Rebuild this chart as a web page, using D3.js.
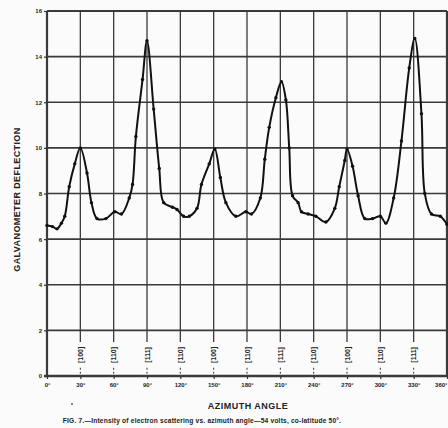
<!DOCTYPE html>
<html>
<head>
<meta charset="utf-8">
<script src="https://cdn.jsdelivr.net/npm/d3@7"></script>
<style>
  body { margin: 0; background: #fbfbfb; }
  svg { display: block; }
  text { fill: #222; font-family: "Liberation Sans Narrow", "Liberation Sans", sans-serif; font-weight: bold; }
</style>
</head>
<body>
<svg id="chart"></svg>
<script>
const width = 448;
const height = 428;

// azimuth angle (degrees) and galvanometer deflection
const azimuth = [0, 5, 9, 13, 16, 20, 25, 30, 36, 40, 45, 53, 61, 67, 74, 77, 80, 86, 90,
  96, 101, 105, 113, 117, 123, 128, 135, 139, 146, 151, 156, 161, 170, 179, 184, 192, 196,
  200, 206, 211, 215, 218, 221, 226, 229, 235, 242, 251, 259, 263, 268, 270, 275, 280, 286,
  293, 300, 305, 312, 319, 326, 331, 337, 340, 346, 354, 360];
const deflection = [6.6, 6.55, 6.45, 6.7, 7.0, 8.3, 9.3, 10.0, 8.9, 7.6, 6.9, 6.9, 7.2, 7.1, 7.8, 8.4, 10.5, 13.0, 14.7,
  11.7, 9.1, 7.6, 7.4, 7.3, 7.0, 7.0, 7.35, 8.4, 9.3, 9.95, 8.7, 7.6, 7.0, 7.2, 7.1, 7.8, 9.5,
  10.9, 12.2, 12.9, 12.1, 10.0, 7.9, 7.6, 7.2, 7.1, 7.0, 6.75, 7.35, 8.3, 9.45, 9.95, 9.2, 7.9, 6.9,
  6.9, 7.0, 6.7, 7.8, 10.3, 13.5, 14.8, 11.5, 8.0, 7.1, 7.0, 6.65];

const xTicks = [0, 30, 60, 90, 120, 150, 180, 210, 240, 270, 300, 330, 360];
const yTicks = [0, 2, 4, 6, 8, 10, 12, 14, 16];
// crystal azimuth marks under the vertical rulings
const dirLabels = ["", "[100]", "[110]", "[111]", "[110]", "[100]", "[110]", "[111]", "[110]", "[100]", "[110]", "[111]", ""];

const margin = {top: 11, right: 1, bottom: 52, left: 47};

const svg = d3.select("#chart")
    .attr("width", width)
    .attr("height", height);

const x = d3.scaleLinear().domain([0, 360]).range([margin.left, width - margin.right]);
const y = d3.scaleLinear().domain([0, 16]).range([height - margin.bottom, margin.top]);

const grid = svg.append("g").attr("stroke", "#3a3a3a").attr("fill", "none");

// horizontal rulings
grid.selectAll("line.h")
    .data(yTicks.filter(d => d > 0))
    .enter().append("line")
    .attr("x1", x(0)).attr("x2", x(360))
    .attr("y1", d => y(d)).attr("y2", d => y(d))
    .attr("stroke-width", d => d === 16 ? 2 : 1.6);

// vertical rulings, broken where the direction label sits
const labelTop = y(1.4), labelBot = y(0.45);
grid.selectAll("line.v")
    .data(xTicks.slice(1, -1))
    .enter().append("line")
    .attr("x1", d => x(d)).attr("x2", d => x(d))
    .attr("y1", y(16)).attr("y2", labelTop - 2)
    .attr("stroke-width", 1.3);
grid.selectAll("line.vd")
    .data(xTicks.slice(1, -1))
    .enter().append("line")
    .attr("x1", d => x(d)).attr("x2", d => x(d))
    .attr("y1", labelBot + 2).attr("y2", y(0))
    .attr("stroke-width", 1)
    .attr("stroke-dasharray", "2,2");

// frame
grid.append("line").attr("x1", x(0)).attr("x2", x(0)).attr("y1", y(16)).attr("y2", y(0)).attr("stroke-width", 2.2);
grid.append("line").attr("x1", x(360)).attr("x2", x(360)).attr("y1", y(16)).attr("y2", y(0)).attr("stroke-width", 2.2);
grid.append("line").attr("x1", x(0) - 3).attr("x2", x(360)).attr("y1", y(0)).attr("y2", y(0)).attr("stroke-width", 2.4);

// direction labels
svg.selectAll("text.dir")
    .data(xTicks.map((d, i) => ({a: d, t: dirLabels[i]})).filter(d => d.t))
    .enter().append("text")
    .attr("transform", d => `translate(${x(d.a) + 2.5},${(labelTop + labelBot) / 2}) rotate(-90)`)
    .attr("text-anchor", "middle")
    .style("font-size", "7px")
    .text(d => d.t);

// bottom axis
const xAxis = svg.append("g")
    .attr("transform", `translate(0,${y(0)})`)
    .call(d3.axisBottom(x).tickValues(xTicks).tickSize(3).tickFormat(d => d + "°"));
xAxis.select(".domain").remove();
xAxis.selectAll("line").attr("stroke", "#333").attr("stroke-width", 1.2);
xAxis.selectAll("text").style("font-size", "6px").attr("dy", "0.9em")
    .attr("text-anchor", d => d === 360 ? "end" : "middle");

// left axis
const yAxis = svg.append("g")
    .attr("transform", `translate(${x(0)},0)`)
    .call(d3.axisLeft(y).tickValues(yTicks).tickSize(3).tickFormat(d3.format("d")));
yAxis.select(".domain").remove();
yAxis.selectAll("line").attr("stroke", "#333").attr("stroke-width", 1.2);
yAxis.selectAll("text").style("font-size", "6px").attr("x", -5);

// curve
const pts = azimuth.map((a, i) => [a, deflection[i]]);
const line = d3.line()
    .x(d => x(d[0]))
    .y(d => y(d[1]))
    .curve(d3.curveCatmullRom.alpha(0.5));

svg.append("path")
    .datum(pts)
    .attr("fill", "none")
    .attr("stroke", "#111")
    .attr("stroke-width", 2)
    .attr("stroke-linejoin", "round")
    .attr("d", line);

svg.selectAll("circle.pt")
    .data(pts)
    .enter().append("circle")
    .attr("cx", d => x(d[0]))
    .attr("cy", d => y(d[1]))
    .attr("r", 1.7)
    .attr("fill", "#111");

// axis titles
svg.append("text")
    .attr("transform", `translate(20,${y(8) + 6}) rotate(-90)`)
    .attr("text-anchor", "middle")
    .style("font-size", "9px")
    .style("letter-spacing", "0.4px")
    .text("GALVANOMETER DEFLECTION");

svg.append("text")
    .attr("x", 248).attr("y", 409)
    .attr("text-anchor", "middle")
    .style("font-size", "9px")
    .style("letter-spacing", "0.5px")
    .text("AZIMUTH ANGLE");

svg.append("text")
    .attr("x", 202).attr("y", 423)
    .attr("text-anchor", "middle")
    .style("font-size", "6.6px")
    .style("letter-spacing", "0.2px")
    .attr("font-family", "Liberation Serif, serif")
    .text("FIG. 7.—Intensity of electron scattering vs. azimuth angle—54 volts, co-latitude 50°.");

svg.append("circle").attr("cx", 72).attr("cy", 404).attr("r", 0.9).attr("fill", "#555");
</script>
</body>
</html>
